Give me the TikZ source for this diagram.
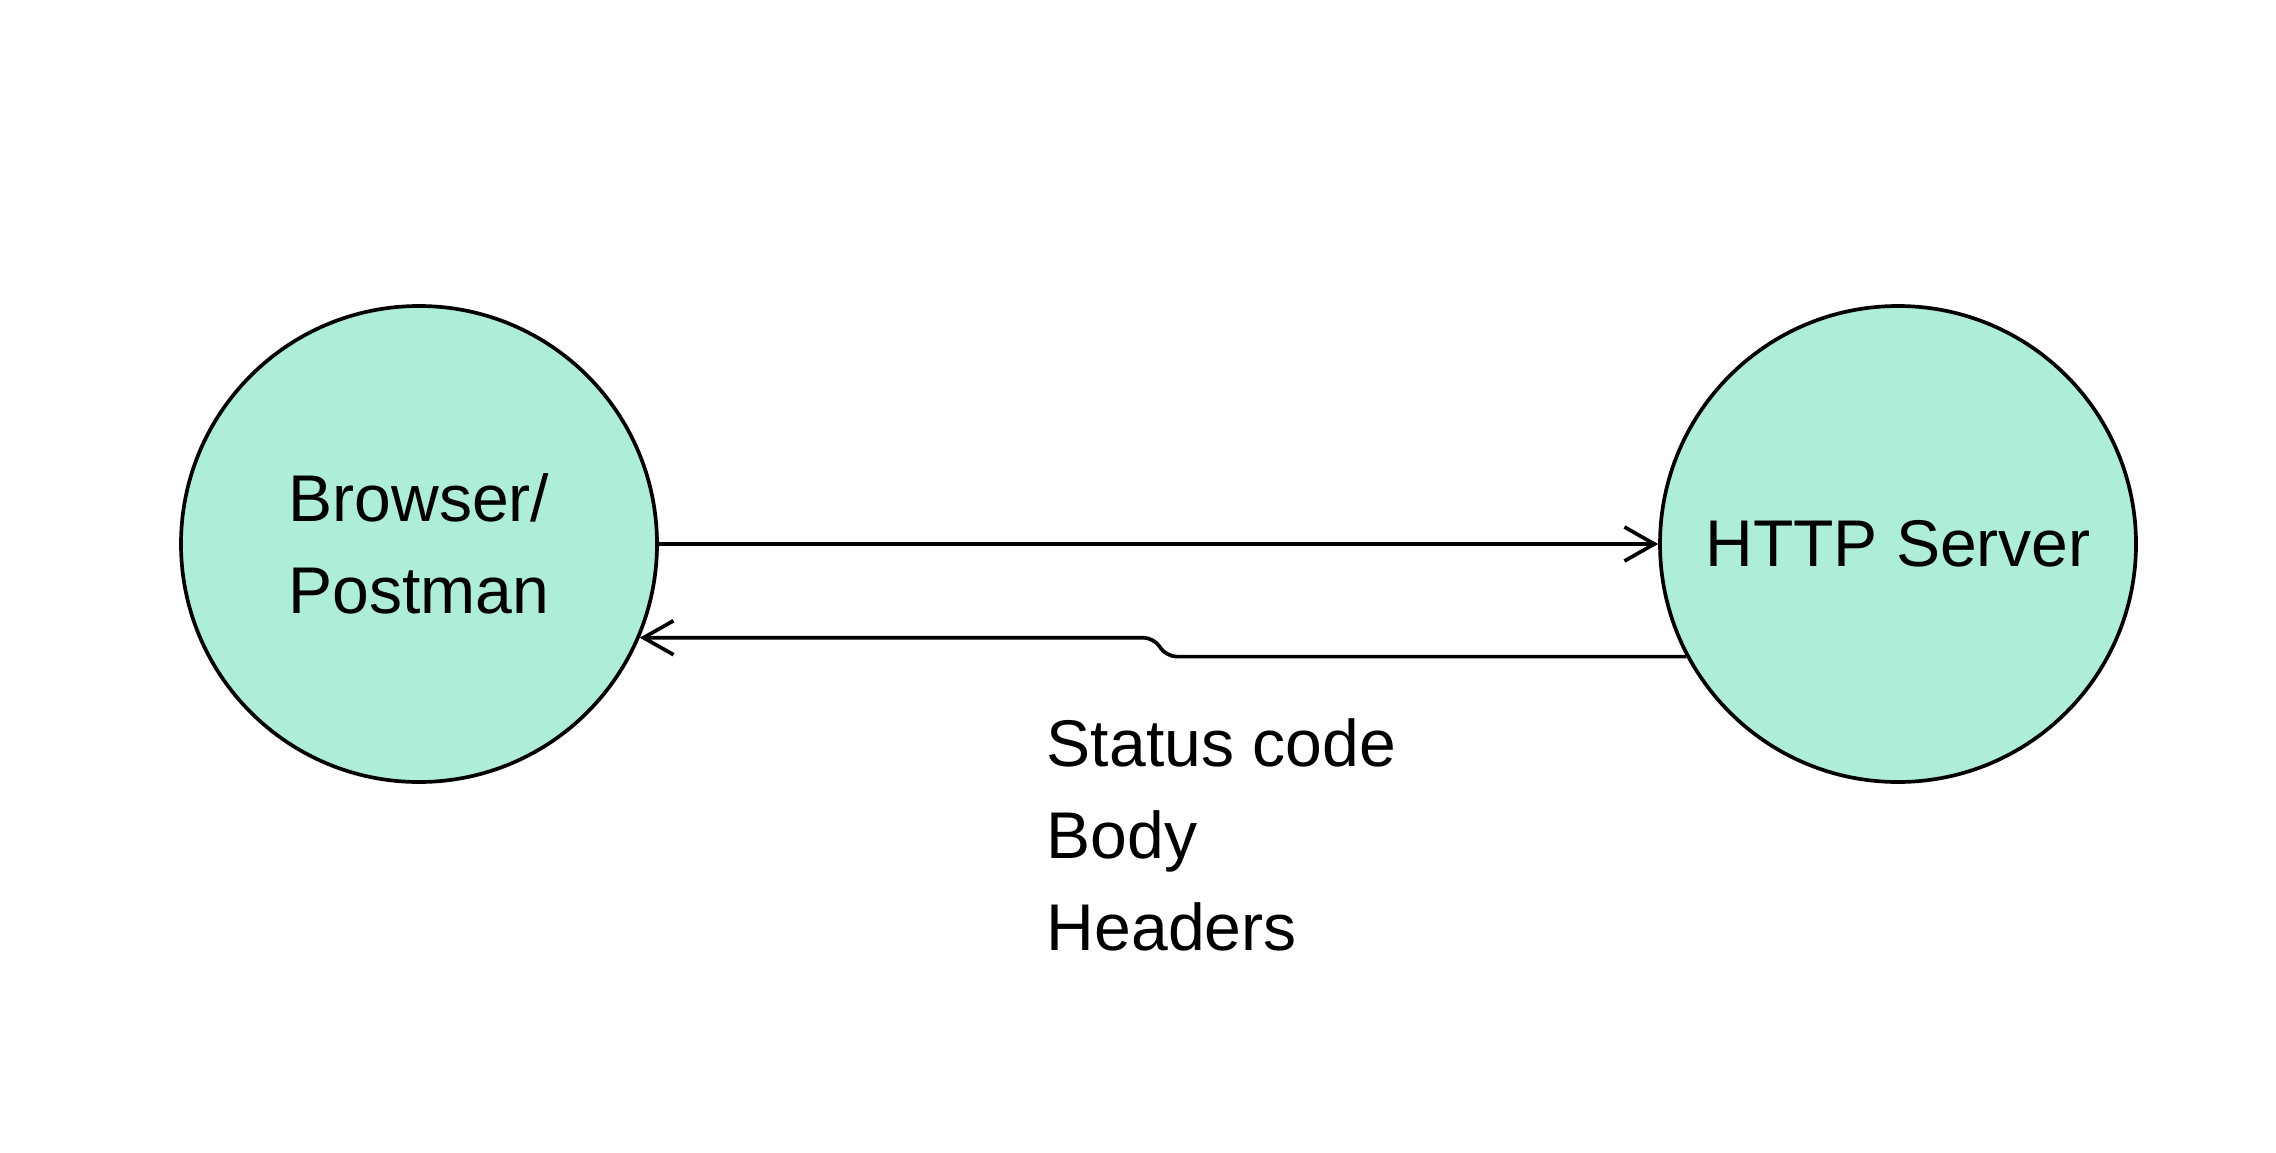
\documentclass[tikz,border=0pt]{standalone}
\usepackage{fontspec}
\setmainfont{Liberation Sans}
\usetikzlibrary{arrows.meta}

\begin{document}
\begin{tikzpicture}[>={Straight Barb[length=3mm, width=3.4mm]}, line width=1.05pt]
    % Màu tô cho hai vòng tròn (xanh bạc hà nhạt)
    \definecolor{mintfill}{RGB}{174, 238, 216}
    \tikzset{vong/.style={circle, draw, fill=mintfill, minimum size=4.76cm,
        align=center, font=\fontsize{18.8}{26.2}\selectfont}}

    % 0. Khung hình
    \useasboundingbox (0,0) rectangle (22.76,-11.52);

    % 1. Hai nút: trình duyệt và máy chủ
    \node[vong] (client) at (4.19,-5.44) {Browser/\\Postman};
    \node[vong] (server) at (18.98,-5.44) {HTTP Server};

    % 2. Yêu cầu đi sang máy chủ
    \draw[->] (client.east) -- (server.west);

    % 3. Phản hồi quay về, có một bậc nhỏ ở giữa
    \coordinate (kink) at (11.6,-6.5);
    \draw[->, rounded corners=3pt] (server.208) -- ([xshift=0.06cm]kink |- server.208)
        -- ([xshift=-0.06cm]kink |- client.-23) -- (client.-23);

    % 4. Nội dung phản hồi
    \node[anchor=north west, align=left, inner sep=0pt,
        font=\fontsize{18.8}{26.2}\selectfont] (resp) at (10.45,-7.17)
        {Status code\\Body\\Headers};
\end{tikzpicture}
\end{document}
